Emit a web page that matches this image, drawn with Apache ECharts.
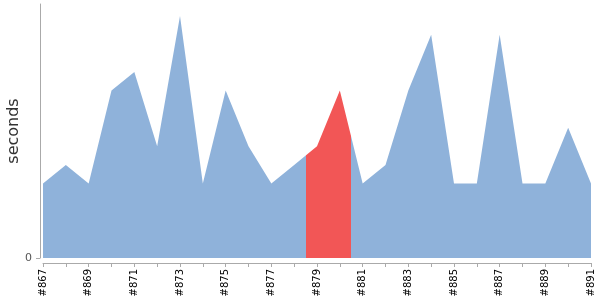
<!DOCTYPE html>
<html>
<head>
<meta charset="utf-8">
<script src="https://cdn.jsdelivr.net/npm/echarts@6/dist/echarts.min.js"></script>
<style>html,body{margin:0;padding:0;background:#fff}#c{width:600px;height:300px}</style>
</head>
<body>
<div id="c"></div>
<script>
var builds = ['#867','#868','#869','#870','#871','#872','#873','#874','#875','#876','#877','#878','#879','#880','#881','#882','#883','#884','#885','#886','#887','#888','#889','#890','#891'];
var durations = [4,5,4,9,10,6,13,4,9,6,4,5,6,9,4,5,9,12,4,4,12,4,4,7,4];
var yTicks = [0];
var highlightFrom = 11.5, highlightTo = 13.5;

var points = durations.map(function (v, i) { return [i, v]; });

var chart = echarts.init(document.getElementById('c'), null, {renderer: 'canvas'});
chart.setOption({
  animation: false,
  grid: {left: 43, right: 9, top: 4, bottom: 42, containLabel: false, outerBoundsMode: 'none'},
  xAxis: {
    type: 'value', min: 0, max: builds.length - 1, interval: 1, offset: 5,
    splitLine: {show: false},
    axisLine: {onZero: false, lineStyle: {color: '#aaa'}},
    axisTick: {length: 4, lineStyle: {color: '#aaa'}},
    axisLabel: {
      rotate: 90, fontSize: 10, color: '#000', fontFamily: 'DejaVu Sans', margin: 6, hideOverlap: false,
      formatter: function (v) { return v % 2 === 0 ? builds[v] : ''; }
    }
  },
  yAxis: {
    type: 'value', min: 0, max: 13.65, offset: 3,
    name: 'seconds', nameLocation: 'middle', nameGap: 18, nameMoveOverlap: false,
    nameTextStyle: {fontSize: 16, color: '#333', fontFamily: 'DejaVu Sans'},
    splitLine: {show: false},
    axisLine: {show: true, onZero: false, lineStyle: {color: '#aaa'}},
    axisTick: {show: true, length: 4, customValues: yTicks, lineStyle: {color: '#aaa'}},
    axisLabel: {customValues: yTicks, fontSize: 11, color: '#555', fontFamily: 'DejaVu Sans', margin: 8}
  },
  visualMap: {
    show: false, type: 'piecewise', dimension: 0, seriesIndex: 0,
    pieces: [
      {lt: highlightFrom, color: '#8fb2da'},
      {gte: highlightFrom, lte: highlightTo, color: '#f25656'},
      {gt: highlightTo, color: '#8fb2da'}
    ]
  },
  series: [{
    type: 'line', data: points, symbol: 'none',
    lineStyle: {width: 0},
    areaStyle: {opacity: 1}
  }]
});
</script>
</body>
</html>
